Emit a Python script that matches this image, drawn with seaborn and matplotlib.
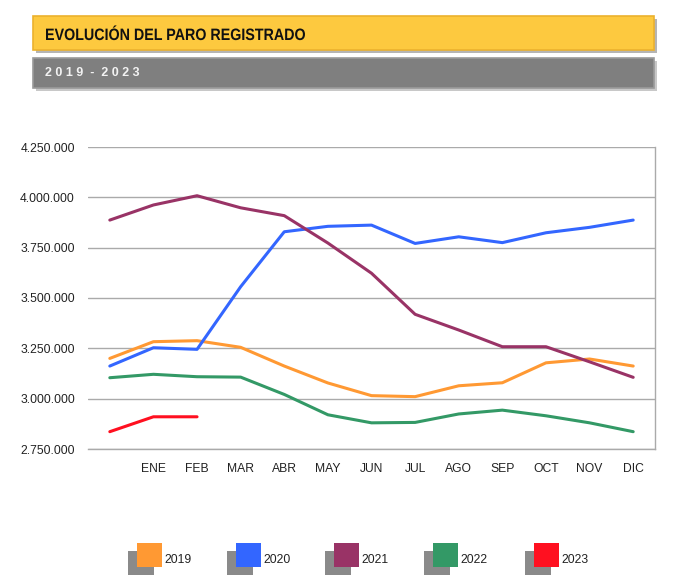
import matplotlib
matplotlib.use("Agg")
import matplotlib.pyplot as plt
from matplotlib.patches import Rectangle, PathPatch
from matplotlib.textpath import TextPath
from matplotlib.font_manager import FontProperties
from matplotlib.transforms import Affine2D, IdentityTransform
import seaborn as sns
import pandas as pd

months = ["", "ENE", "FEB", "MAR", "ABR", "MAY", "JUN", "JUL", "AGO", "SEP", "OCT", "NOV", "DIC"]
y2019 = [3200000, 3283000, 3288000, 3255000, 3162000, 3078000, 3015000, 3010000, 3064000, 3079000, 3178000, 3197000, 3162000]
y2020 = [3162000, 3253000, 3245000, 3556000, 3829000, 3856000, 3862000, 3771000, 3804000, 3775000, 3824000, 3851000, 3887000]
y2021 = [3887000, 3962000, 4008000, 3948000, 3909000, 3773000, 3623000, 3419000, 3341000, 3258000, 3258000, 3183000, 3106000]
y2022 = [3104000, 3121000, 3109000, 3107000, 3021000, 2920000, 2880000, 2882000, 2924000, 2943000, 2915000, 2880000, 2836000]
y2023 = [2836000, 2910000, 2910000]
series_names = ["2019", "2020", "2021", "2022", "2023"]
colors = ["#FF9933", "#3366FF", "#993366", "#339966", "#FF1020"]
yticks = [2750000, 3000000, 3250000, 3500000, 3750000, 4000000, 4250000]
title = "EVOLUCIÓN DEL PARO REGISTRADO"
subtitle = "2 0 1 9  -  2 0 2 3"

rows = []
for name, vals in zip(series_names, [y2019, y2020, y2021, y2022, y2023]):
    for i, v in enumerate(vals):
        rows.append({"pos": i, "value": v, "year": name})
df = pd.DataFrame(rows)

sns.set_theme(style="white")
plt.rcParams["font.family"] = ["Liberation Sans", "DejaVu Sans"]

fig = plt.figure(figsize=(6.73, 5.84), dpi=100)
W, H = 673, 584

def fx(px):
    return px / W

def fy(py):
    return 1 - py / H

# Header boxes
def box(x0, y0, x1, y1, face, edge, shadow):
    fig.patches.append(Rectangle((fx(x0 + 3), fy(y1 + 3)), fx(x1 - x0), (y1 - y0) / H,
                                 transform=fig.transFigure, facecolor=shadow, edgecolor="none", zorder=0))
    fig.patches.append(Rectangle((fx(x0), fy(y1)), fx(x1 - x0), (y1 - y0) / H,
                                 transform=fig.transFigure, facecolor=face, edgecolor=edge, linewidth=1.2, zorder=1))

box(33, 16, 654, 50, "#FDC93F", "#EBB12E", "#B5B5B5")
box(33, 58, 654, 88, "#7F7F7F", "#9A9A9A", "#C8C8C8")

# condensed bold title drawn as a text path (pixel coordinates)
tp = TextPath((0, 0), title, size=16.5, prop=FontProperties(family="Liberation Sans", weight="bold"))
ext = tp.get_extents()
sx = 259.0 / ext.width
tr = Affine2D().translate(-ext.x0, 0).scale(sx, 1.0).translate(46, H - 40) + IdentityTransform()
fig.patches.append(PathPatch(tp, transform=tr, facecolor="#111111", edgecolor="none", zorder=3))

fig.text(fx(45), fy(73), subtitle, fontsize=9, fontweight="bold",
         color="#F2F2F2", va="center", ha="left")

ax = fig.add_axes([fx(88), fy(449), fx(655 - 88), (449 - 147) / H])
sns.lineplot(data=df, x="pos", y="value", hue="year", palette=colors, linewidth=2.2,
             legend=False, ax=ax, sort=False)
ax.set_xlim(-0.5, len(months) - 0.5)
ax.set_ylim(yticks[0], yticks[-1])
ax.set_xticks(range(len(months)))
ax.set_xticklabels(months, fontsize=8.7, color="#222222")
ax.set_yticks(yticks)
ax.set_yticklabels([f"{v:,}".replace(",", ".") for v in yticks], fontsize=8.7, color="#222222")
ax.yaxis.grid(True, color="#AAAAAA", linewidth=1)
ax.set_axisbelow(True)
ax.set_xlabel("")
ax.set_ylabel("")
ax.tick_params(axis="both", length=0)
ax.tick_params(axis="y", pad=9.5)
ax.tick_params(axis="x", pad=10)
for side in ["left", "top"]:
    ax.spines[side].set_visible(False)
for side in ["right", "bottom"]:
    ax.spines[side].set_color("#AAAAAA")
    ax.spines[side].set_linewidth(1)

# Legend
leg_x = [137, 236, 334, 433, 534]
for name, c, x in zip(series_names, colors, leg_x):
    fig.patches.append(Rectangle((fx(x - 9), fy(575)), fx(26), 24 / H, transform=fig.transFigure,
                                 facecolor="#8A8A8A", edgecolor="none"))
    fig.patches.append(Rectangle((fx(x), fy(567)), fx(25), 24 / H, transform=fig.transFigure,
                                 facecolor=c, edgecolor="none"))
    fig.text(fx(x + 27), fy(560), name, fontsize=8.7, color="#222222", va="center", ha="left")

fig.savefig("out.png", dpi=100)
